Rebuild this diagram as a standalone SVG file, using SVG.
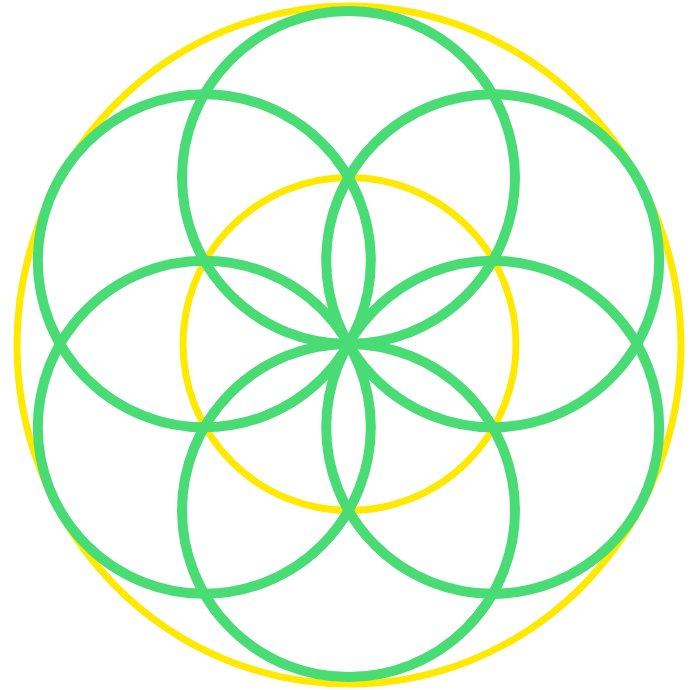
<svg xmlns="http://www.w3.org/2000/svg" width="692" height="690" viewBox="0 0 692 690">
<style>
.y{fill:none;stroke:#FFE900;stroke-width:7}
.g{fill:none;stroke:#49DC74;stroke-width:10}
</style>
<rect width="692" height="690" fill="#ffffff"/>
<g id="outer"><ellipse class="y" cx="349" cy="345" rx="332" ry="339"/></g>
<g id="center"><circle class="y" cx="349.5" cy="344" r="166.5"/></g>
<g id="petals">
<circle id="top" class="g" cx="348.5" cy="177.5" r="166.5"/>
<circle id="bottom" class="g" cx="348.5" cy="510.5" r="166.5"/>
<circle id="upper-left" class="g" cx="204.3" cy="260.75" r="166.5"/>
<circle id="upper-right" class="g" cx="492.7" cy="260.75" r="166.5"/>
<circle id="lower-left" class="g" cx="204.3" cy="427.25" r="166.5"/>
<circle id="lower-right" class="g" cx="492.7" cy="427.25" r="166.5"/>
</g>
</svg>
